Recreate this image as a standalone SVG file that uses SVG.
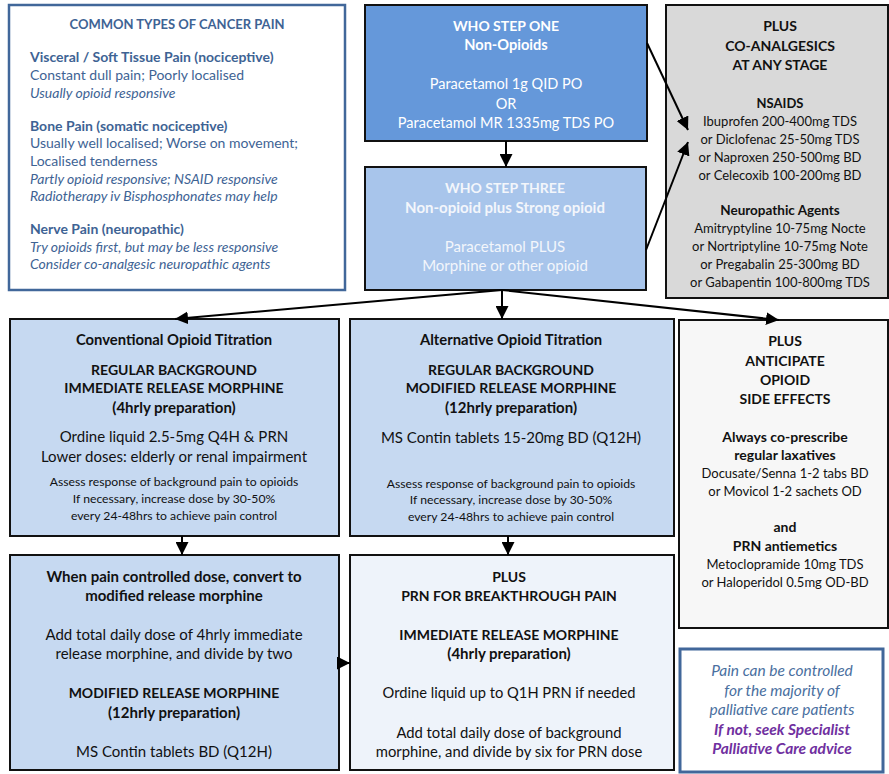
<svg xmlns="http://www.w3.org/2000/svg" width="889" height="774" viewBox="0 0 889 774">
<defs>
<marker id="ah" markerUnits="userSpaceOnUse" markerWidth="13" markerHeight="13" refX="13" refY="6.5" orient="auto">
<path d="M0,0 L13,6.5 L0,13 z" fill="#000"/>
</marker>
<style>
text{font-family:Lato,"Open Sans","Liberation Sans",sans-serif;font-size:14px;}
.c{text-anchor:middle;}
.b{font-weight:bold;}
.i{font-style:italic;}
.s{font-size:12.2px;}
.m{font-size:15px;}
.d{font-size:13px;}
.box{stroke:#111;stroke-width:2;}
.blue{fill:#3E6394;}
.wt{fill:#FFFFFF;}
.wt2{fill:#F3F6FB;}
.dk{fill:#111;}
.note{font-size:15.5px;font-style:italic;}
.conn{stroke:#000;stroke-width:2;fill:none;marker-end:url(#ah);}
</style>
</defs>

<g id="common-types">
<rect x="9" y="5" width="336" height="285" fill="#FFFFFF" stroke="#41679A" stroke-width="2.5"/>
<text x="177" y="29" class="c b blue" style="font-size:13px">COMMON TYPES OF CANCER PAIN</text>
<text x="30" y="62" class="b blue">Visceral / Soft Tissue Pain (nociceptive)</text>
<text x="30" y="80" class="blue">Constant dull pain; Poorly localised</text>
<text x="30" y="98" class="i blue">Usually opioid responsive</text>
<text x="30" y="131" class="b blue">Bone Pain (somatic nociceptive)</text>
<text x="30" y="148" class="blue">Usually well localised; Worse on movement;</text>
<text x="30" y="166" class="blue">Localised tenderness</text>
<text x="30" y="184" class="i blue">Partly opioid responsive; NSAID responsive</text>
<text x="30" y="201" class="i blue">Radiotherapy iv Bisphosphonates may help</text>
<text x="30" y="234" class="b blue">Nerve Pain (neuropathic)</text>
<text x="30" y="252" class="i blue">Try opioids first, but may be less responsive</text>
<text x="30" y="269" class="i blue">Consider co-analgesic neuropathic agents</text>
</g>

<g id="who-step-one">
<rect x="365" y="5" width="282" height="136" fill="#6598DA" class="box"/>
<text x="506" y="31" class="c b wt">WHO STEP ONE</text>
<text x="506" y="50" class="c b wt" style="font-size:14.6px">Non-Opioids</text>
<text x="506" y="89" class="c wt" style="font-size:14.5px">Paracetamol 1g QID PO</text>
<text x="506" y="109" class="c wt" style="font-size:14.5px">OR</text>
<text x="506" y="128" class="c wt" style="font-size:14.5px">Paracetamol MR 1335mg TDS PO</text>
</g>

<g id="who-step-three">
<rect x="365" y="167" width="281" height="123" fill="#A8C5EB" class="box"/>
<text x="505" y="193" class="c b wt2">WHO STEP THREE</text>
<text x="505" y="213" class="c b wt2 m">Non-opioid plus Strong opioid</text>
<text x="505" y="252" class="c wt2 m">Paracetamol PLUS</text>
<text x="505" y="271" class="c wt2 m">Morphine or other opioid</text>
</g>

<g id="co-analgesics">
<rect x="666" y="5" width="222" height="293" fill="#D9D9D9" class="box"/>
<text x="780" y="31" class="c b dk">PLUS</text>
<text x="780" y="51" class="c b dk">CO-ANALGESICS</text>
<text x="780" y="70" class="c b dk">AT ANY STAGE</text>
<text x="780" y="108" class="c b dk d">NSAIDS</text>
<text x="780" y="126" class="c dk d">Ibuprofen 200-400mg TDS</text>
<text x="780" y="144" class="c dk d">or Diclofenac 25-50mg TDS</text>
<text x="780" y="162" class="c dk d">or Naproxen 250-500mg BD</text>
<text x="780" y="180" class="c dk d">or Celecoxib 100-200mg BD</text>
<text x="780" y="215" class="c b dk" style="font-size:13.5px">Neuropathic Agents</text>
<text x="780" y="233" class="c dk d">Amitryptyline 10-75mg Nocte</text>
<text x="780" y="251" class="c dk d">or Nortriptyline 10-75mg Note</text>
<text x="780" y="269" class="c dk d">or Pregabalin 25-300mg BD</text>
<text x="780" y="287" class="c dk d">or Gabapentin 100-800mg TDS</text>
</g>

<g id="conventional-titration">
<rect x="10" y="319" width="329" height="217" fill="#C6D9F1" class="box"/>
<text x="174" y="345" class="c b dk" style="font-size:14.8px">Conventional Opioid Titration</text>
<text x="174" y="375" class="c b dk">REGULAR BACKGROUND</text>
<text x="174" y="393" class="c b dk">IMMEDIATE RELEASE MORPHINE</text>
<text x="174" y="413" class="c b dk m">(4hrly preparation)</text>
<text x="174" y="442" class="c dk m">Ordine liquid 2.5-5mg Q4H &amp; PRN</text>
<text x="174" y="462" class="c dk m">Lower doses: elderly or renal impairment</text>
<text x="174" y="486" class="c s dk">Assess response of background pain to opioids</text>
<text x="174" y="503" class="c s dk">If necessary, increase dose by 30-50%</text>
<text x="174" y="520" class="c s dk">every 24-48hrs to achieve pain control</text>
</g>

<g id="alternative-titration">
<rect x="350" y="319" width="324" height="217" fill="#C6D9F1" class="box"/>
<text x="511" y="345" class="c b dk" style="font-size:14.8px">Alternative Opioid Titration</text>
<text x="511" y="375" class="c b dk">REGULAR BACKGROUND</text>
<text x="511" y="393" class="c b dk">MODIFIED RELEASE MORPHINE</text>
<text x="511" y="413" class="c b dk m">(12hrly preparation)</text>
<text x="511" y="443" class="c dk m">MS Contin tablets 15-20mg BD (Q12H)</text>
<text x="511" y="488" class="c s dk">Assess response of background pain to opioids</text>
<text x="511" y="504" class="c s dk">If necessary, increase dose by 30-50%</text>
<text x="511" y="521" class="c s dk">every 24-48hrs to achieve pain control</text>
</g>

<g id="side-effects">
<rect x="679" y="320" width="209" height="308" fill="#F7F7F7" class="box"/>
<text x="785" y="346" class="c b dk">PLUS</text>
<text x="785" y="366" class="c b dk">ANTICIPATE</text>
<text x="785" y="385" class="c b dk">OPIOID</text>
<text x="785" y="404" class="c b dk">SIDE EFFECTS</text>
<text x="785" y="442" class="c b dk">Always co-prescribe</text>
<text x="785" y="460" class="c b dk">regular laxatives</text>
<text x="785" y="478" class="c dk d">Docusate/Senna 1-2 tabs BD</text>
<text x="785" y="496" class="c dk d">or Movicol 1-2 sachets OD</text>
<text x="785" y="532" class="c b dk">and</text>
<text x="785" y="551" class="c b dk">PRN antiemetics</text>
<text x="785" y="569" class="c dk d">Metoclopramide 10mg TDS</text>
<text x="785" y="587" class="c dk d">or Haloperidol 0.5mg OD-BD</text>
</g>

<g id="convert-mr">
<rect x="10" y="555" width="329" height="215" fill="#C6D9F1" class="box"/>
<text x="174" y="582" class="c b dk m">When pain controlled dose, convert to</text>
<text x="174" y="601" class="c b dk m">modified release morphine</text>
<text x="174" y="640" class="c dk m">Add total daily dose of 4hrly immediate</text>
<text x="174" y="659" class="c dk m">release morphine, and divide by two</text>
<text x="174" y="698" class="c b dk">MODIFIED RELEASE MORPHINE</text>
<text x="174" y="718" class="c b dk m">(12hrly preparation)</text>
<text x="174" y="757" class="c dk m">MS Contin tablets BD (Q12H)</text>
</g>

<g id="prn-breakthrough">
<rect x="350" y="555" width="324" height="215" fill="#EEF3FA" class="box"/>
<text x="509" y="582" class="c b dk">PLUS</text>
<text x="509" y="601" class="c b dk">PRN FOR BREAKTHROUGH PAIN</text>
<text x="509" y="640" class="c b dk">IMMEDIATE RELEASE MORPHINE</text>
<text x="509" y="659" class="c b dk m">(4hrly preparation)</text>
<text x="509" y="698" class="c dk" style="font-size:14.7px">Ordine liquid up to Q1H PRN if needed</text>
<text x="509" y="738" class="c dk" style="font-size:14.8px">Add total daily dose of background</text>
<text x="509" y="757" class="c dk" style="font-size:14.8px">morphine, and divide by six for PRN dose</text>
</g>

<g id="pain-controlled-note">
<rect x="680" y="649" width="203" height="123" fill="#FFFFFF" stroke="#41679A" stroke-width="3"/>
<text x="782" y="676" class="c note" fill="#4A6FA0">Pain can be controlled</text>
<text x="782" y="696" class="c note" fill="#4A6FA0">for the majority of</text>
<text x="782" y="715" class="c note" fill="#4A6FA0">palliative care patients</text>
<text x="782" y="735" class="c note b" fill="#7030A0">If not, seek Specialist</text>
<text x="782" y="754" class="c note b" fill="#7030A0">Palliative Care advice</text>
</g>

<g id="connectors">
<path class="conn" d="M506,141 L506,167"/>
<path class="conn" d="M647,43 L688,130"/>
<path class="conn" d="M646,250 L688,142"/>
<path class="conn" d="M502,290 L175,319"/>
<path class="conn" d="M502,290 L502,319"/>
<path class="conn" d="M502,290 L779,320"/>
<path class="conn" d="M182,536 L182,555"/>
<path class="conn" d="M508,536 L508,555"/>
<path class="conn" d="M338,663 L350,663"/>
</g>
</svg>
